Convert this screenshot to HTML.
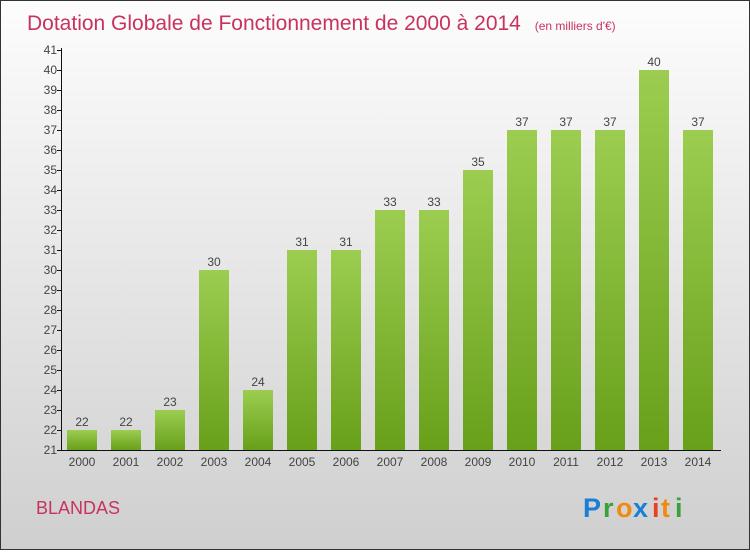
<!DOCTYPE html>
<html><head><meta charset="utf-8"><style>
body{margin:0}
svg text{font-family:"Liberation Sans",sans-serif}
</style></head><body>
<svg width="750" height="550" xmlns="http://www.w3.org/2000/svg">
<defs>
<linearGradient id="bg" x1="0" y1="0" x2="0" y2="1"><stop offset="0" stop-color="#fdfdfd"/><stop offset="1" stop-color="#cfcfcf"/></linearGradient>
<linearGradient id="bar" x1="0" y1="0" x2="0" y2="1"><stop offset="0" stop-color="#9ccd50"/><stop offset="1" stop-color="#68a01a"/></linearGradient>
</defs>
<rect x="0.5" y="0.5" width="749" height="549" fill="url(#bg)" stroke="#333"/>
<text x="27" y="30" font-size="21" fill="#c8325e">Dotation Globale de Fonctionnement de 2000 à 2014 <tspan font-size="12" dx="8">(en milliers d'€)</tspan></text>
<g id="plot"></g>
<text x="36" y="514" font-size="18" fill="#c8325e">BLANDAS</text>
<g font-size="27" font-weight="bold">
<text x="583" y="517" fill="#1a7fd4">P</text><text x="603" y="517" fill="#3aa03a">r</text><text x="616" y="517" fill="#f08a10">o</text><text x="633" y="517" fill="#1a7fd4">x</text><text x="652" y="517" fill="#e84020">i</text><text x="661" y="517" fill="#f08a10">t</text><text x="675" y="517" fill="#3aa03a">i</text>
</g>
</svg>
<script>
const years=["2000","2001","2002","2003","2004","2005","2006","2007","2008","2009","2010","2011","2012","2013","2014"];
const values=[22,22,23,30,24,31,31,33,33,35,37,37,37,40,37];
const yTicks=[21,22,23,24,25,26,27,28,29,30,31,32,33,34,35,36,37,38,39,40,41];
const NS="http://www.w3.org/2000/svg";
const g=document.getElementById('plot');
const yScale=v=>450-(v-21)*20;
const xScale=i=>82+i*44;
function el(t,a,txt){const e=document.createElementNS(NS,t);for(const k in a)e.setAttribute(k,a[k]);if(txt!==undefined)e.textContent=txt;g.appendChild(e);return e;}
values.forEach((v,i)=>{
 const b=el('rect',{x:xScale(i)-15,y:yScale(v),width:30,height:450-yScale(v),fill:'url(#bar)'});
 
 
 const l=el('text',{x:xScale(i),y:yScale(v)-4,'font-size':12,fill:'#444','text-anchor':'middle'},String(v));
 
 
 const x=el('text',{x:xScale(i),y:466,'font-size':12,fill:'#444','text-anchor':'middle'},years[i]);
 
 
});
const ax=el('path',{d:'M61.5 48V450.5H721',stroke:'#111',fill:'none','stroke-width':1});


yTicks.forEach(t=>{
 const y=yScale(t);
 const tk=el('line',{x1:57,x2:61,y1:y+0.5,y2:y+0.5,stroke:'#111'});
 
 
 const tl=el('text',{x:57,y:y+4,'font-size':12,fill:'#444','text-anchor':'end'},String(t));
 
 
});
</script>
</body></html>
